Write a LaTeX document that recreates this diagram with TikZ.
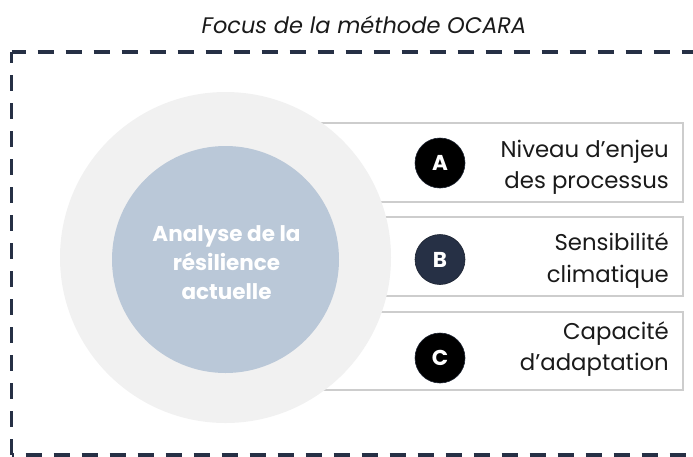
\documentclass[tikz,border=0pt]{standalone}
\usepackage{fontspec}
\setmainfont{Poppins}
\definecolor{navy}{HTML}{263045}
\definecolor{outerc}{HTML}{F1F1F1}
\definecolor{innerc}{HTML}{BAC8D8}
\definecolor{boxline}{HTML}{CDCDCD}
\definecolor{txt}{HTML}{1A1A1A}
\tikzset{
  frameline/.style={draw=navy, line width=3.5pt, dash pattern=on 16pt off 12pt},
  itembox/.style={draw=boxline, fill=white, line width=1.5pt},
  badge/.style={circle, minimum size=50pt, inner sep=0pt, draw=navy!70!black, line width=0.6pt,
     text=white, font=\fontsize{21.5}{21.5}\selectfont\bfseries},
  itemtext/.style={anchor=east, align=right, text=txt, font=\fontsize{22.8}{31.5}\selectfont,
     text height=16.5pt, text depth=5.5pt, inner sep=0pt},
}
\begin{document}
\begin{tikzpicture}[x=1pt, y=-1pt]
\useasboundingbox (0,0) rectangle (693,456);
\clip (0,0) rectangle (693,456);
% frame
\coordinate (tl) at (11.5,52);
\coordinate (tr) at (700,52);
\coordinate (bl) at (11.5,455);
\coordinate (br) at (700,455);
\draw[frameline, dash phase=2pt] (tl) -- (tr);
\draw[frameline, dash phase=5pt] (tl) -- (bl);
\draw[frameline, dash phase=14pt] (bl) -- (br);
\node[anchor=base, text=txt, font=\fontsize{22.5}{22.5}\selectfont\itshape] (title) at (364,33) {Focus de la méthode OCARA};
% boxes
\draw[itembox] (300,123) rectangle (683,202);
\draw[itembox] (300,217) rectangle (683,296);
\draw[itembox] (300,312) rectangle (683,390);
% circles
\fill[outerc] (225.5,257.5) circle (165.5);
\node[circle, fill=innerc, minimum size=227pt, inner sep=0pt] (core) at (225.5,259.5) {};
\node[align=center, text=white, font=\fontsize{21.5}{29}\selectfont\bfseries] (coretext) at (226.5,263) {Analyse de la\\résilience\\actuelle};
% badges
\node[badge, fill=black] (A) at (440,163) {A};
\node[badge, fill=navy] (B) at (440,259.5) {B};
\node[badge, fill=black] (C) at (440,358) {C};
% texts
\node[itemtext] (tA) at (669,183) {Niveau d’enjeu\\des processus};
\node[itemtext] (tB) at (669,276.5) {Sensibilité\\climatique};
\node[itemtext] (tC) at (669,365) {Capacité\\d’adaptation};
\end{tikzpicture}
\end{document}
